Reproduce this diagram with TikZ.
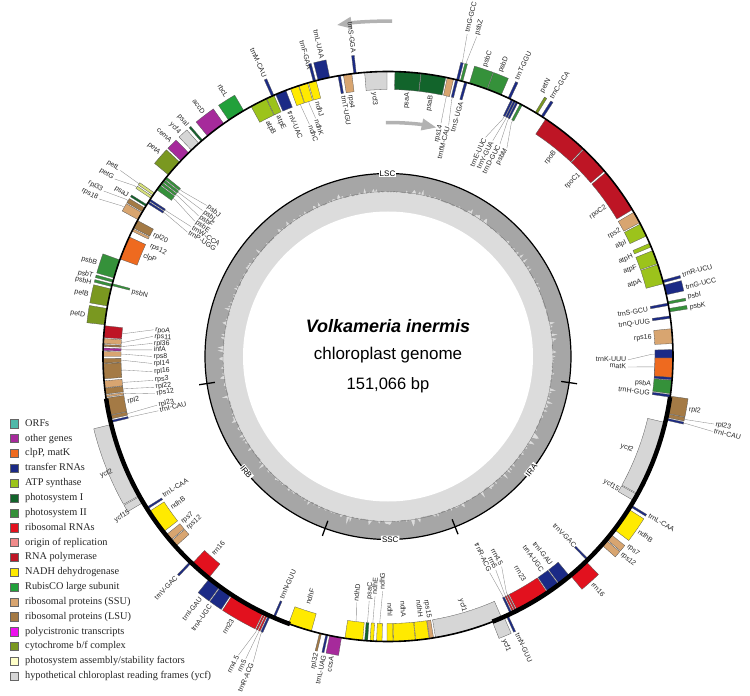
\documentclass[tikz,border=0pt]{standalone}
\usepackage{fontspec}
\setmainfont{Liberation Serif}
\setsansfont{Liberation Sans}
\newfontfamily\lsans{Liberation Sans}
\usetikzlibrary{arrows.meta}
\definecolor{cORF}{HTML}{4FB9A9}
\definecolor{cOther}{HTML}{A62A9B}
\definecolor{cClp}{HTML}{EE6A1F}
\definecolor{cTrna}{HTML}{1B2A86}
\definecolor{cAtp}{HTML}{9CC31B}
\definecolor{cPsI}{HTML}{12642B}
\definecolor{cPsII}{HTML}{35913A}
\definecolor{cRrna}{HTML}{E2111E}
\definecolor{cOri}{HTML}{F08A8A}
\definecolor{cRpo}{HTML}{BE1525}
\definecolor{cNdh}{HTML}{FFEA00}
\definecolor{cRbc}{HTML}{21A03A}
\definecolor{cSSU}{HTML}{D8A570}
\definecolor{cLSU}{HTML}{A47A45}
\definecolor{cPoly}{HTML}{EE11EE}
\definecolor{cCyt}{HTML}{7A9820}
\definecolor{cCytL}{HTML}{D8E27C}
\definecolor{cAsm}{HTML}{FFFFC8}
\definecolor{cYcf}{HTML}{D6D6D6}
\definecolor{gcdark}{HTML}{A6A6A6}
\definecolor{gclight}{HTML}{DCDCDC}
\tikzset{
  genebox/.style={draw=black!65, line width=0.3pt},
  glab/.style={font=\lsans\fontsize{7}{7.5}\selectfont, text=black!85, inner sep=0.5pt, text height=5pt, text depth=1.4pt},
  lead/.style={draw=black!45, line width=0.35pt},
  legtxt/.style={font=\rmfamily\fontsize{10.3}{11}\selectfont, text=black!85, inner sep=0pt, text height=7pt, text depth=2pt},
  reglab/.style={font=\lsans\fontsize{8}{8.5}\selectfont, fill=white, inner sep=1pt},
  garrow/.style={draw=black!30, line width=3.5pt, -{Triangle[length=15pt,width=11pt]}}
}
% gene box: start angle, end angle, colour, side (1 outer, -1 inner)
\newcommand{\gGene}[4]{%
  \pgfmathsetmacro{\gmRB}{285+18*(#4)}%
  \filldraw[genebox, fill=#3] (#1:285) arc[start angle=#1, end angle=#2, radius=285] -- (#2:\gmRB) arc[start angle=#2, end angle=#1, radius=\gmRB] -- cycle;}
% label: angle, radius, side, text
\newcommand{\gLab}[4]{%
  \pgfmathsetmacro{\gmC}{cos(#1)}%
  \ifdim\gmC pt<-0.001pt
    \pgfmathsetmacro{\gmRot}{#1-180}%
    \ifnum#3=1 \def\gmAnc{east}\else\def\gmAnc{west}\fi
  \else
    \pgfmathsetmacro{\gmRot}{#1}%
    \ifnum#3=1 \def\gmAnc{west}\else\def\gmAnc{east}\fi
  \fi
  \node[glab, rotate=\gmRot, anchor=\gmAnc] at (#1:#2) {#4};}
% outer label: gene angle, label angle, extra distance, text
\newcommand{\gOL}[4]{%
  \pgfmathsetmacro{\gmR}{303+#3}\pgfmathsetmacro{\gmRa}{302+#3}%
  \ifdim #3pt>9pt \draw[lead] (#1:303) -- (#1:306) -- (#2:\gmRa);\fi
  \gLab{#2}{\gmR}{1}{#4}}
% inner label
\newcommand{\gIL}[4]{%
  \pgfmathsetmacro{\gmR}{267-#3}\pgfmathsetmacro{\gmRa}{268-#3}%
  \ifdim #3pt>9pt \draw[lead] (#1:267) -- (#1:264) -- (#2:\gmRa);\fi
  \gLab{#2}{\gmR}{-1}{#4}}
\newcommand{\gLeg}[3]{%
  \pgfmathsetmacro{\gmY}{356.5-423.7-14.85*#1}%
  \filldraw[draw=black!60, line width=0.4pt, fill=#2] (-378,\gmY-4.1) rectangle (-369.8,\gmY+4.1);
  \node[legtxt, anchor=west] at (-363,\gmY) {#3};}
\begin{document}
\begin{tikzpicture}[x=1pt,y=1pt]
\useasboundingbox (-388,-339.5) rectangle (362,356.5);
\fill[white] (-388,-339.5) rectangle (362,356.5);
% ---------- inner GC circle ----------
\fill[gclight] (0,0) circle[radius=183];
\fill[white] (0,0) circle[radius=145];
\pgfmathsetseed{7}
\fill[gcdark, even odd rule] (0,0) circle[radius=183] (0:168)
  \foreach \a [evaluate=\a as \gr using {164+13*rnd*rnd*rnd}] in {0.5,1,...,359.5} { -- (\a:\gr) } -- cycle;
\draw[black!55, line width=0.3pt] (0,0) circle[radius=165];
\draw[black, line width=1.2pt] (0,0) circle[radius=183];
\foreach \t in {188.5,249.9,291.5,351.8} \draw[black, line width=1.3pt] (\t:175) -- (\t:191);
\node[reglab] (lsc) at (90.15:183) {LSC};
\node[reglab, rotate=-50.8] (irb) at (219.2:183) {IRB};
\node[reglab, rotate=0.7] (ssc) at (270.7:183) {SSC};
\node[reglab, rotate=51.6] (ira) at (321.6:183) {IRA};
\node[font=\lsans\bfseries\itshape\fontsize{18}{20}\selectfont] (ttl) at (0,30.5) {Volkameria inermis};
\node[font=\lsans\fontsize{17}{19}\selectfont] (sub) at (0,1.5) {chloroplast genome};
\node[font=\lsans\fontsize{16.5}{19}\selectfont] (len) at (0,-28.5) {151,066 bp};
% ---------- direction arrows ----------
\draw[garrow] (89.3:335.4) arc[start angle=89.3, end angle=98.8, radius=335.4];
\draw[garrow] (90.5:234) arc[start angle=90.5, end angle=78, radius=234];
% ---------- genes: LSC ----------
\gGene{351.8}{352.3}{cTrna}{-1}
\gGene{352.5}{355.2}{cPsII}{-1}
\gGene{355.3}{361.4}{cTrna}{-1}
\gGene{355.8}{359.7}{cClp}{-1}
\gGene{2.6}{5.6}{cSSU}{-1}
\gGene{7.7}{8.2}{cTrna}{-1}
\gGene{9.0}{9.7}{cPsII}{1}
\gGene{10.3}{10.8}{cTrna}{-1}
\gGene{10.6}{11.1}{cPsII}{1}
\gGene{12.5}{14.5}{cTrna}{1}
\gGene{15.0}{15.5}{cTrna}{1}
\gGene{14.8}{18.8}{cAtp}{-1}
\gGene{19.0}{21.8}{cAtp}{-1}
\gGene{22.6}{23.4}{cAtp}{-1}
\gGene{25.0}{27.7}{cAtp}{-1}
\gGene{28.0}{30.4}{cSSU}{-1}
\gGene{31.0}{40.2}{cRpo}{-1}
\gGene{40.6}{46.6}{cRpo}{-1}
\gGene{46.8}{56.4}{cRpo}{-1}
\gGene{57.0}{57.5}{cTrna}{1}
\gGene{58.4}{58.9}{cCyt}{1}
\gGene{61.9}{62.4}{cPsII}{-1}
\gGene{62.9}{63.3}{cTrna}{-1}
\gGene{63.45}{63.85}{cTrna}{-1}
\gGene{64.0}{64.4}{cTrna}{-1}
\gGene{64.6}{65.1}{cTrna}{1}
\gGene{66.6}{69.6}{cPsII}{1}
\gGene{69.7}{73.4}{cPsII}{1}
\gGene{73.9}{74.4}{cTrna}{-1}
\gGene{74.8}{75.3}{cPsII}{1}
\gGene{75.6}{76.1}{cTrna}{1}
\gGene{75.8}{76.3}{cTrna}{-1}
\gGene{76.7}{78.0}{cSSU}{-1}
\gGene{78.3}{83.3}{cPsI}{-1}
\gGene{83.4}{88.6}{cPsI}{-1}
\gGene{90.2}{94.7}{cYcf}{-1}
\gGene{96.4}{96.9}{cTrna}{1}
\gGene{97.3}{99.0}{cSSU}{-1}
\gGene{99.6}{100.1}{cTrna}{-1}
\gGene{101.8}{104.2}{cTrna}{1}
\gGene{104.7}{105.2}{cTrna}{1}
\gGene{104.6}{106.2}{cNdh}{-1}
\gGene{106.4}{108.2}{cNdh}{-1}
\gGene{108.3}{110.0}{cNdh}{-1}
\gGene{111.0}{113.2}{cTrna}{-1}
\gGene{113.6}{114.1}{cTrna}{1}
\gGene{113.6}{115.2}{cAtp}{-1}
\gGene{115.3}{118.7}{cAtp}{-1}
\gGene{120.4}{124.0}{cRbc}{1}
\gGene{125.2}{129.3}{cOther}{1}
\gGene{130.6}{131.0}{cPsI}{1}
\gGene{131.6}{133.6}{cYcf}{1}
\gGene{134.4}{136.6}{cOther}{1}
\gGene{137.0}{140.4}{cCyt}{1}
\gGene{141.0}{141.5}{cPsII}{-1}
\gGene{141.7}{142.2}{cPsII}{-1}
\gGene{142.4}{142.9}{cPsII}{-1}
\gGene{143.1}{144.2}{cPsII}{-1}
\gGene{145.0}{145.5}{cCytL}{1}
\gGene{145.8}{146.3}{cCytL}{1}
\gGene{146.5}{146.9}{cTrna}{-1}
\gGene{147.1}{147.5}{cTrna}{-1}
\gGene{147.8}{148.2}{cPsI}{1}
\gGene{148.6}{149.5}{cLSU}{1}
\gGene{149.7}{151.3}{cSSU}{1}
\gGene{151.5}{153.2}{cLSU}{-1}
\gGene{153.4}{153.9}{cSSU}{-1}
\gGene{155.2}{160.0}{cClp}{-1}
\gGene{160.2}{164.0}{cPsII}{1}
\gGene{164.4}{164.9}{cPsII}{1}
\gGene{165.2}{165.6}{cPsII}{-1}
\gGene{165.3}{165.8}{cPsII}{1}
\gGene{166.3}{169.8}{cCyt}{1}
\gGene{170.3}{173.6}{cCyt}{1}
\gGene{173.8}{176.2}{cRpo}{-1}
\gGene{176.4}{177.4}{cSSU}{-1}
\gGene{177.6}{178.0}{cLSU}{-1}
\gGene{178.3}{178.8}{cOther}{-1}
\gGene{179.0}{180.0}{cSSU}{-1}
\gGene{180.4}{181.3}{cLSU}{-1}
\gGene{181.4}{184.5}{cLSU}{-1}
\gGene{184.9}{186.3}{cSSU}{-1}
\gGene{186.4}{187.6}{cLSU}{-1}
\gGene{187.8}{188.2}{cSSU}{-1}
% IRB
\gGene{188.4}{191.9}{cLSU}{-1}
\gGene{192.0}{192.7}{cLSU}{-1}
\gGene{193.0}{193.4}{cTrna}{-1}
\gGene{193.8}{209.2}{cYcf}{1}
\gGene{209.4}{210.8}{cYcf}{1}
\gGene{212.0}{212.4}{cTrna}{-1}
\gGene{213.0}{218.0}{cNdh}{-1}
\gGene{218.8}{220.2}{cSSU}{-1}
\gGene{220.4}{221.8}{cSSU}{-1}
\gGene{226.0}{226.4}{cTrna}{1}
\gGene{226.6}{231.0}{cRrna}{-1}
\gGene{231.2}{233.8}{cTrna}{1}
\gGene{234.0}{236.6}{cTrna}{1}
\gGene{236.9}{244.0}{cRrna}{1}
\gGene{244.2}{244.5}{cRrna}{1}
\gGene{244.7}{245.0}{cRrna}{1}
\gGene{245.2}{245.6}{cTrna}{1}
\gGene{246.2}{246.6}{cTrna}{-1}
% SSC
\gGene{249.6}{254.4}{cNdh}{-1}
\gGene{256.1}{256.5}{cLSU}{1}
\gGene{257.4}{257.8}{cTrna}{1}
\gGene{258.2}{260.6}{cOther}{1}
\gGene{261.3}{264.9}{cNdh}{-1}
\gGene{265.3}{265.9}{cPsI}{-1}
\gGene{266.4}{267.1}{cNdh}{-1}
\gGene{267.7}{268.8}{cNdh}{-1}
\gGene{269.8}{271.0}{cNdh}{-1}
\gGene{271.1}{275.5}{cNdh}{-1}
\gGene{275.6}{278.3}{cNdh}{-1}
\gGene{278.4}{279.2}{cSSU}{-1}
\gGene{279.6}{293.5}{cYcf}{-1}
% IRA
\gGene{291.5}{294.0}{cYcf}{1}
\gGene{294.5}{294.9}{cTrna}{1}
\gGene{295.4}{295.8}{cTrna}{-1}
\gGene{296.0}{296.3}{cRrna}{-1}
\gGene{296.5}{296.8}{cRrna}{-1}
\gGene{297.0}{304.0}{cRrna}{-1}
\gGene{304.2}{306.8}{cTrna}{-1}
\gGene{307.0}{309.6}{cTrna}{-1}
\gGene{309.8}{314.0}{cRrna}{1}
\gGene{314.3}{314.7}{cTrna}{-1}
\gGene{318.6}{319.9}{cSSU}{1}
\gGene{320.1}{321.4}{cSSU}{1}
\gGene{322.6}{327.6}{cNdh}{1}
\gGene{328.2}{328.6}{cTrna}{1}
\gGene{329.6}{331.0}{cYcf}{-1}
\gGene{331.2}{346.6}{cYcf}{-1}
\gGene{347.1}{347.5}{cTrna}{1}
\gGene{347.7}{348.4}{cLSU}{1}
\gGene{348.5}{352.0}{cLSU}{1}
% ---------- ring ----------
\draw[black, line width=1.6pt] (0,0) circle[radius=285];
\draw[black, line width=4.5pt] (188.5:285) arc[start angle=188.5, end angle=249.9, radius=285];
\draw[black, line width=4.5pt] (291.5:285) arc[start angle=291.5, end angle=351.8, radius=285];
% ---------- outer labels ----------
\gOL{9.3}{9.2}{2}{psbK}
\gOL{10.85}{11.2}{2}{psbI}
\gOL{13.5}{13.0}{2}{trnG-UCC}
\gOL{15.25}{15.4}{2}{trnR-UCU}
\gOL{57.25}{57.6}{2}{trnC-GCA}
\gOL{58.65}{59.8}{2}{petN}
\gOL{64.85}{65.0}{2}{trnT-GGU}
\gOL{68.1}{68.4}{2}{psbD}
\gOL{71.5}{71.5}{2}{psbC}
\gOL{75.05}{74.5}{30}{psbZ}
\gOL{75.85}{76.2}{30}{trnG-GCC}
\gOL{96.65}{96.6}{2}{trnS-GGA}
\gOL{103}{102.6}{2}{trnL-UAA}
\gOL{104.95}{105.4}{-6}{trnF-GAA}
\gOL{113.85}{113.9}{2}{trnM-CAU}
\gOL{122.2}{122.0}{2}{rbcL}
\gOL{127.25}{127.2}{2}{accD}
\gOL{130.8}{131.0}{2}{psaI}
\gOL{132.6}{133.0}{2}{ycf4}
\gOL{135.5}{135.4}{2}{cemA}
\gOL{138.7}{138.4}{2}{petA}
\gOL{145.25}{145.2}{24}{petL}
\gOL{146.05}{147.0}{24}{petG}
\gOL{148}{148.3}{2}{psaJ}
\gOL{149.05}{149.8}{27}{rpl33}
\gOL{150.5}{151.4}{27}{rps18}
\gOL{162.1}{162.3}{2}{psbB}
\gOL{164.65}{164.8}{2}{psbT}
\gOL{165.55}{166.1}{2}{psbH}
\gOL{168.05}{168.3}{2}{petB}
\gOL{171.95}{172.2}{2}{petD}
\gOL{201.5}{202.6}{-5}{ycf2}
\gOL{210.1}{211}{-2}{ycf15}
\gOL{226.2}{226.3}{2}{trnV-GAC}
\gOL{232.5}{232.3}{2}{trnI-GAU}
\gOL{235.3}{234.6}{2}{trnA-UGC}
\gOL{240.5}{239.5}{2}{rrn23}
\gOL{244.35}{243.4}{32}{rrn4.5}
\gOL{244.85}{244.8}{32}{rrn5}
\gOL{245.4}{246.2}{32}{trnR-ACG}
\gOL{256.3}{256.5}{2}{rpl32}
\gOL{257.6}{258.0}{2}{trnL-UAG}
\gOL{259.4}{259.5}{2}{ccsA}
\gOL{292.75}{292.3}{2}{ycf1}
\gOL{294.7}{294.9}{2}{trnN-GUU}
\gOL{311.9}{311.9}{2}{rrn16}
\gOL{319.25}{319.8}{2}{rps12}
\gOL{320.75}{321.7}{2}{rps7}
\gOL{325.1}{325}{2}{ndhB}
\gOL{328.4}{328.6}{2}{trnL-CAA}
\gOL{347.3}{347.0}{31}{trnI-CAU}
\gOL{348.05}{348.3}{31}{rpl23}
\gOL{350.25}{350}{2}{rpl2}
% ---------- inner labels ----------
\gIL{352.05}{351.9}{2}{trnH-GUG}
\gIL{353.85}{354}{2}{psbA}
\gIL{0.5}{359.2}{28}{trnK-UUU}
\gIL{357.75}{357.5}{28}{matK}
\gIL{4.1}{4.2}{2}{rps16}
\gIL{7.95}{7.6}{2}{trnQ-UUG}
\gIL{10.55}{10.2}{2}{trnS-GCU}
\gIL{16.8}{16.5}{2}{atpA}
\gIL{20.4}{19.8}{2}{atpF}
\gIL{23}{22.3}{2}{atpH}
\gIL{26.35}{25.7}{2}{atpI}
\gIL{29.2}{28.5}{2}{rps2}
\gIL{35.6}{34.5}{2}{rpoC2}
\gIL{43.6}{43.6}{2}{rpoC1}
\gIL{51.6}{50.8}{2}{rpoB}
\gIL{62.15}{60.3}{28}{psbM}
\gIL{63.1}{62.2}{28}{trnD-GUC}
\gIL{63.65}{64.1}{28}{trnY-GUA}
\gIL{64.2}{66.0}{28}{trnE-UUC}
\gIL{74.15}{73.8}{2}{trnS-UGA}
\gIL{76.05}{75.3}{29}{trnfM-CAU}
\gIL{77.35}{77.2}{29}{rps14}
\gIL{80.8}{80.6}{2}{psaB}
\gIL{86}{85.8}{2}{psaA}
\gIL{92.45}{93}{2}{ycf3}
\gIL{98.15}{98.2}{2}{rps4}
\gIL{99.85}{99.8}{2}{trnT-UGU}
\gIL{105.4}{105.6}{2}{ndhJ}
\gIL{107.3}{106.9}{19}{ndhK}
\gIL{109.15}{108.7}{23}{ndhC}
\gIL{112.1}{112.0}{2}{trnV-UAC}
\gIL{114.4}{114.6}{2}{atpE}
\gIL{117}{117.2}{2}{atpB}
\gIL{141.25}{140.2}{32}{psbJ}
\gIL{141.95}{141.8}{32}{psbL}
\gIL{142.65}{143.4}{32}{psbF}
\gIL{143.65}{145.0}{32}{psbE}
\gIL{146.7}{146.6}{32}{trnW-CCA}
\gIL{147.3}{148.2}{32}{trnP-UGG}
\gIL{152.35}{152.5}{2}{rpl20}
\gIL{153.65}{155}{4}{rps12}
\gIL{157.6}{157.6}{2}{clpP}
\gIL{165.4}{165.8}{2}{psbN}
\gIL{175}{173.5}{32}{rpoA}
\gIL{176.9}{175.1}{32}{rps11}
\gIL{177.8}{176.8}{32}{rpl36}
\gIL{178.55}{178.4}{32}{infA}
\gIL{179.5}{180.0}{32}{rps8}
\gIL{180.85}{181.7}{32}{rpl14}
\gIL{182.95}{183.7}{32}{rpl16}
\gIL{185.6}{185.8}{32}{rps3}
\gIL{187}{187.5}{32}{rpl22}
\gIL{188}{189.1}{32}{rps12}
\gIL{190.15}{189.8}{2}{rpl2}
\gIL{192.35}{191.9}{32}{rpl23}
\gIL{193.2}{193.3}{32}{trnI-CAU}
\gIL{212.2}{211.8}{2}{trnL-CAA}
\gIL{215.5}{215}{2}{ndhB}
\gIL{219.5}{218.8}{2}{rps7}
\gIL{221.1}{220.6}{2}{rps12}
\gIL{228.8}{228.6}{2}{rrn16}
\gIL{246.4}{246.4}{2}{trnN-GUU}
\gIL{252}{252.2}{6}{ndhF}
\gIL{263.1}{262.7}{20}{ndhD}
\gIL{265.6}{265.6}{23}{psaC}
\gIL{266.75}{266.9}{28}{ndhE}
\gIL{268.25}{268.7}{33}{ndhG}
\gIL{270.4}{270.3}{6}{ndhI}
\gIL{273.3}{273.3}{5}{ndhA}
\gIL{276.95}{277}{4}{ndhH}
\gIL{278.8}{278.9}{2}{rps15}
\gIL{286.5}{286.7}{0}{ycf1}
\gIL{295.6}{295.2}{29}{trnR-ACG}
\gIL{296.15}{296.8}{29}{rrn5}
\gIL{296.65}{298.4}{29}{rrn4.5}
\gIL{300.5}{301.2}{4}{rrn23}
\gIL{305.5}{305.6}{2}{trnA-UGC}
\gIL{308.3}{308.0}{2}{trnI-GAU}
\gIL{314.5}{314.5}{0}{trnV-GAC}
\gIL{330.3}{330.0}{0}{ycf15}
\gIL{338.9}{339.0}{4}{ycf2}
% ---------- legend ----------
\gLeg{0}{cORF}{ORFs}
\gLeg{1}{cOther}{other genes}
\gLeg{2}{cClp}{clpP, matK}
\gLeg{3}{cTrna}{transfer RNAs}
\gLeg{4}{cAtp}{ATP synthase}
\gLeg{5}{cPsI}{photosystem I}
\gLeg{6}{cPsII}{photosystem II}
\gLeg{7}{cRrna}{ribosomal RNAs}
\gLeg{8}{cOri}{origin of replication}
\gLeg{9}{cRpo}{RNA polymerase}
\gLeg{10}{cNdh}{NADH dehydrogenase}
\gLeg{11}{cRbc}{RubisCO large subunit}
\gLeg{12}{cSSU}{ribosomal proteins (SSU)}
\gLeg{13}{cLSU}{ribosomal proteins (LSU)}
\gLeg{14}{cPoly}{polycistronic transcripts}
\gLeg{15}{cCyt}{cytochrome b/f complex}
\gLeg{16}{cAsm}{photosystem assembly/stability factors}
\gLeg{17}{cYcf}{hypothetical chloroplast reading frames (ycf)}
\end{tikzpicture}
\end{document}
